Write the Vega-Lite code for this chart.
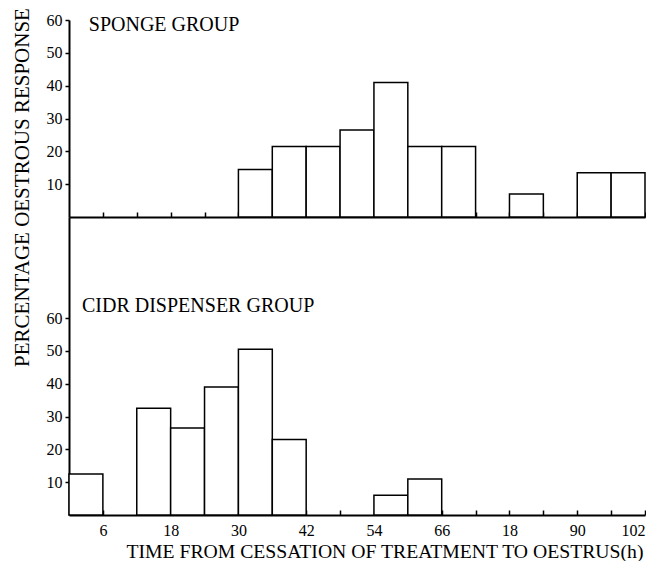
{
  "$schema": "https://vega.github.io/schema/vega-lite/v6.json",
  "padding": {"left": 11, "top": 7, "right": 0, "bottom": 0},
  "background": "white",
  "config": {
    "view": {"stroke": null},
    "font": "Liberation Serif",
    "axis": {
      "grid": false,
      "domainColor": "black",
      "domainWidth": 2,
      "tickColor": "black",
      "tickWidth": 1.5,
      "labelColor": "black",
      "labelFont": "Liberation Serif",
      "labelFontSize": 16,
      "titleColor": "black",
      "titleFont": "Liberation Serif",
      "titleFontWeight": "normal"
    }
  },
  "datasets": {
    "bars": [
      {"group": "Sponge", "start": 30, "end": 36, "pct": 14.5},
      {"group": "Sponge", "start": 36, "end": 42, "pct": 21.5},
      {"group": "Sponge", "start": 42, "end": 48, "pct": 21.5},
      {"group": "Sponge", "start": 48, "end": 54, "pct": 26.5},
      {"group": "Sponge", "start": 54, "end": 60, "pct": 41},
      {"group": "Sponge", "start": 60, "end": 66, "pct": 21.5},
      {"group": "Sponge", "start": 66, "end": 72, "pct": 21.5},
      {"group": "Sponge", "start": 78, "end": 84, "pct": 7},
      {"group": "Sponge", "start": 90, "end": 96, "pct": 13.5},
      {"group": "Sponge", "start": 96, "end": 102, "pct": 13.5},
      {"group": "CIDR", "start": 0, "end": 6, "pct": 12.5},
      {"group": "CIDR", "start": 12, "end": 18, "pct": 32.5},
      {"group": "CIDR", "start": 18, "end": 24, "pct": 26.5},
      {"group": "CIDR", "start": 24, "end": 30, "pct": 39},
      {"group": "CIDR", "start": 30, "end": 36, "pct": 50.5},
      {"group": "CIDR", "start": 36, "end": 42, "pct": 23},
      {"group": "CIDR", "start": 54, "end": 60, "pct": 6},
      {"group": "CIDR", "start": 60, "end": 66, "pct": 11}
    ]
  },
  "spacing": 0,
  "bounds": "flush",
  "vconcat": [
    {
      "width": 576,
      "height": 197,
      "data": {"name": "bars"},
      "transform": [{"filter": "datum.group === 'Sponge'"}],
      "encoding": {
        "x": {"field": "start", "type": "quantitative", "scale": {"domain": [0, 102], "nice": false, "zero": false},
              "axis": {"values": [6, 12, 18, 24, 30, 36, 42, 48, 54, 60, 66, 72, 78, 84, 90, 96, 102], "labels": false, "tickSize": -5, "title": null}},
        "y": {"field": "pct", "type": "quantitative", "scale": {"domain": [0, 60], "nice": false},
              "axis": {"values": [10, 20, 30, 40, 50, 60], "tickSize": 4, "labelPadding": 3, "title": "PERCENTAGE OESTROUS RESPONSE", "titleFontSize": 21, "titleX": -41, "titleY": 167, "titleAlign": "center", "titleBaseline": "alphabetic", "titleAngle": -90}}
      },
      "layer": [
        {
          "mark": {"type": "bar", "fill": "white", "stroke": "black", "strokeWidth": 1.5},
          "encoding": {"x2": {"field": "end"}, "y2": {"datum": 0}}
        },
        {
          "transform": [{"filter": "datum.start === 30"}],
          "mark": {"type": "text", "align": "left", "baseline": "alphabetic", "fontSize": 20, "font": "Liberation Serif", "fontWeight": "normal", "fill": "black"},
          "encoding": {"x": {"datum": 3.5}, "y": {"datum": 56.6}, "text": {"value": "SPONGE GROUP"}}
        }
      ]
    },
    {
      "width": 576,
      "height": 298,
      "data": {"name": "bars"},
      "transform": [{"filter": "datum.group === 'CIDR'"}],
      "encoding": {
        "x": {"field": "start", "type": "quantitative", "scale": {"domain": [0, 102], "nice": false, "zero": false},
              "axis": {"values": [6, 12, 18, 24, 30, 36, 42, 48, 54, 60, 66, 72, 78, 84, 90, 96, 102], "tickSize": -5, "labelPadding": 12,
                       "labelExpr": "datum.value % 12 === 6 ? (datum.value === 78 ? '18' : datum.label) : ''",
                       "title": "TIME FROM CESSATION OF TREATMENT TO OESTRUS(h)", "titleFontSize": 19.7, "titleX": 574, "titleY": 42, "titleAlign": "right", "titleBaseline": "alphabetic"}},
        "y": {"field": "pct", "type": "quantitative", "scale": {"domain": [0, 90.8], "nice": false},
              "axis": {"values": [10, 20, 30, 40, 50, 60], "tickSize": 4, "labelPadding": 3, "title": null}}
      },
      "layer": [
        {
          "mark": {"type": "bar", "fill": "white", "stroke": "black", "strokeWidth": 1.5},
          "encoding": {"x2": {"field": "end"}, "y2": {"datum": 0}}
        },
        {
          "transform": [{"filter": "datum.start === 0"}],
          "mark": {"type": "text", "align": "left", "baseline": "alphabetic", "fontSize": 20, "font": "Liberation Serif", "fontWeight": "normal", "fill": "black"},
          "encoding": {"x": {"datum": 2.3}, "y": {"datum": 61.8}, "text": {"value": "CIDR DISPENSER GROUP"}}
        }
      ]
    }
  ]
}
